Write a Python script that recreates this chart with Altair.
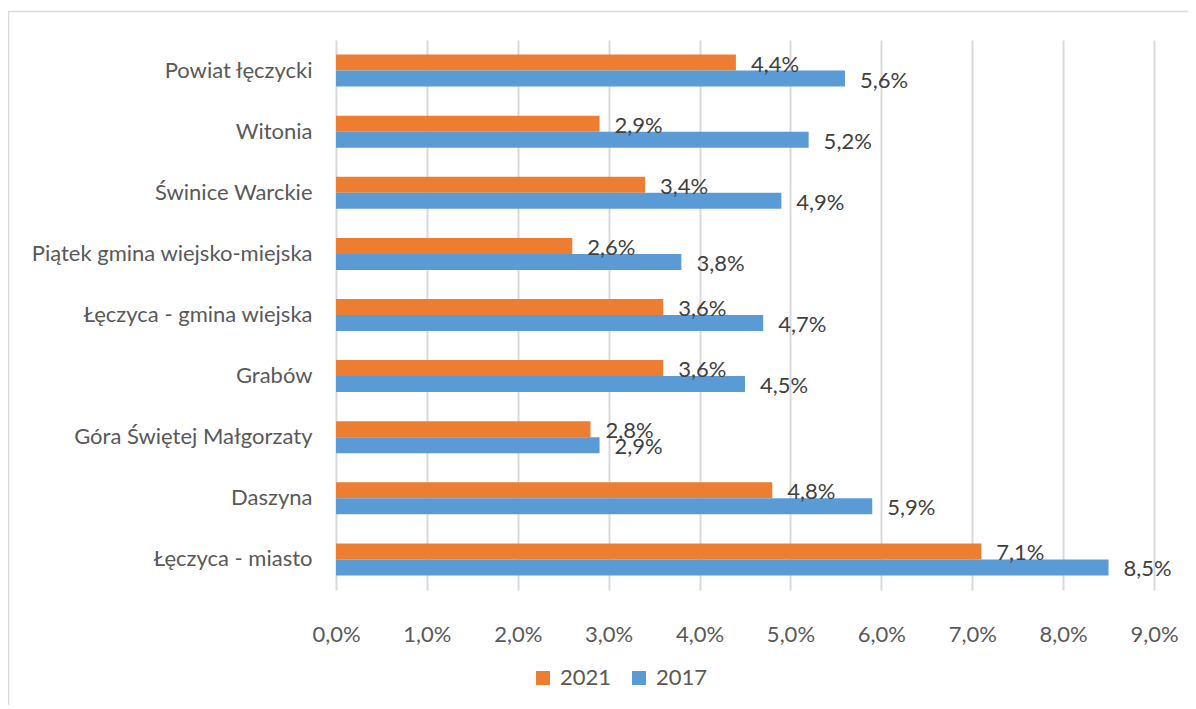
import altair as alt
import pandas as pd

categories = [
    "Powiat łęczycki",
    "Witonia",
    "Świnice Warckie",
    "Piątek gmina wiejsko-miejska",
    "Łęczyca - gmina wiejska",
    "Grabów",
    "Góra Świętej Małgorzaty",
    "Daszyna",
    "Łęczyca - miasto",
]
values_2021 = [4.4, 2.9, 3.4, 2.6, 3.6, 3.6, 2.8, 4.8, 7.1]
values_2017 = [5.6, 5.2, 4.9, 3.8, 4.7, 4.5, 2.9, 5.9, 8.5]
years = ["2021", "2017"]
colors = ["#ED7D31", "#5B9BD5"]
x_ticks = [0, 1, 2, 3, 4, 5, 6, 7, 8, 9]

rows = []
for c, a, b in zip(categories, values_2021, values_2017):
    rows.append({"category": c, "year": "2021", "value": a})
    rows.append({"category": c, "year": "2017", "value": b})
df = pd.DataFrame(rows)

FONT = "Lato"
FS = 22

base = alt.Chart(df).transform_calculate(
    label="replace(format(datum.value, '.1f'), '.', ',') + '%'"
).encode(
    y=alt.Y(
        "category:N",
        sort=categories,
        scale=alt.Scale(paddingInner=0.476, paddingOuter=0.238),
        axis=alt.Axis(
            title=None, domain=False, ticks=False, grid=False,
            labelPadding=24, labelFontSize=FS, labelColor="#595959", labelFont=FONT,
            labelLimit=400,
        ),
    ),
    yOffset=alt.YOffset("year:N", sort=years),
    x=alt.X(
        "value:Q",
        scale=alt.Scale(domain=[0, 9], nice=False),
        axis=alt.Axis(
            title=None, values=x_ticks, domain=False, ticks=False,
            labelExpr="replace(format(datum.value, '.1f'), '.', ',') + '%'",
            labelPadding=34, labelFontSize=FS, labelColor="#595959", labelFont=FONT,
            labelFlush=False, labelOverlap=False,
            grid=True, gridColor="#d9d9d9", gridWidth=2,
        ),
    ),
)

bars = base.mark_bar().encode(
    color=alt.Color(
        "year:N",
        scale=alt.Scale(domain=years, range=colors),
        legend=alt.Legend(
            title=None, orient="none", legendX=196, legendY=627,
            direction="horizontal", symbolType="square", symbolSize=196,
            symbolStrokeWidth=0, labelFontSize=FS, labelColor="#595959",
            labelFont=FONT, columnPadding=16, labelOffset=6,
        ),
    )
)

text = base.mark_text(
    align="left", baseline="middle", dx=15, dy=2, fontSize=FS, color="#404040", font=FONT
).encode(text="label:N")

border = alt.Chart(pd.DataFrame({"a": [0]})).mark_rect(
    fill="white", fillOpacity=0, stroke="#d9d9d9", strokeWidth=1.5
).encode(
    x=alt.value(-327.5), x2=alt.value(880),
    y=alt.value(-28.5), y2=alt.value(700),
)

chart = alt.layer(border, bars, text).properties(
    width=818,
    height=550,
    padding={"left": 328, "top": 32, "right": 34, "bottom": 115},
    autosize=alt.AutoSizeParams(type="none"),
).configure_view(strokeWidth=0)

chart.save("out.html", embed_options={"renderer": "svg", "actions": False})
